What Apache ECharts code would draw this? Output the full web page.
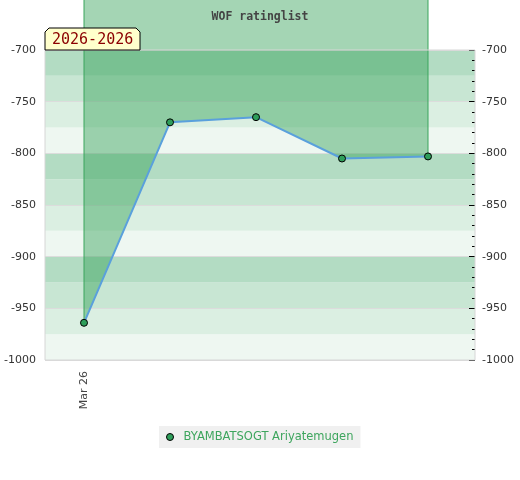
<!DOCTYPE html>
<html>
<head>
<meta charset="utf-8">
<script src="https://cdn.jsdelivr.net/npm/echarts@6/dist/echarts.min.js"></script>
<style>html,body{margin:0;padding:0;background:#fff;}#c{width:520px;height:480px;}</style>
</head>
<body>
<div id="c"></div>
<script>
// ---- data ----
var playerName = 'BYAMBATSOGT Ariyatemugen';
var ratings = [-964, -770, -765, -805, -803];
var xTickLabels = ['Mar 26'];
var yTicksMajor = [-1000, -950, -900, -850, -800, -750, -700];
var chartTitle = 'WOF ratinglist';
var periodLabel = '2026-2026';

var points = ratings.map(function (v, i) { return [i, v]; });

var chart = echarts.init(document.getElementById('c'), null, {renderer: 'canvas'});
var option = {
  animation: false,
  title: {
    text: chartTitle, left: 'center', top: 6,
    textStyle: {fontFamily: 'DejaVu Sans Mono', fontWeight: 'bold', fontSize: 11.5, color: '#444'}
  },
  grid: {
    left: 45, right: 45, top: 50, bottom: 120,
    show: true, z: 10, backgroundColor: 'transparent', borderColor: '#d6d6d6', borderWidth: 1
  },
  legend: {
    left: 159, top: 426,
    backgroundColor: '#f0f0f0',
    padding: [5, 7, 5, 7],
    icon: 'circle', itemWidth: 17, itemHeight: 7,
    itemStyle: {borderColor: '#000', borderWidth: 1},
    textStyle: {color: '#3da55d', fontSize: 11.5, fontFamily: 'DejaVu Sans'},
    data: [playerName]
  },
  xAxis: {
    type: 'value', min: -39 / 86, max: 4 + 47 / 86,
    axisLine: {show: false}, axisTick: {show: false}, splitLine: {show: false},
    axisLabel: {
      customValues: xTickLabels.map(function (d, i) { return i; }),
      rotate: 90, margin: 11, fontSize: 11, color: '#444', fontFamily: 'DejaVu Sans',
      formatter: function (v) { return xTickLabels[Math.round(v)] || ''; }
    }
  },
  yAxis: [{
    type: 'value', min: -1000, max: -700, interval: 25, position: 'left',
    axisLine: {show: false}, axisTick: {show: false}, splitLine: {show: false},
    splitArea: {show: true, areaStyle: {color: ['#eef7f1', '#dbefe2', '#c8e6d3', '#b3dcc3']}},
    axisLabel: {
      margin: 9, fontSize: 11, color: '#333', fontFamily: 'DejaVu Sans',
      formatter: function (v) { return yTicksMajor.indexOf(v) >= 0 ? String(v) : ''; }
    }
  }, {
    type: 'value', min: -1000, max: -700, interval: 50, position: 'right', z: 1,
    axisLine: {show: false},
    axisTick: {show: true, inside: true, length: 6, lineStyle: {color: '#000'}},
    minorTick: {show: true, splitNumber: 5, length: 3, lineStyle: {color: '#000'}},
    splitLine: {show: true, lineStyle: {color: '#dcdcdc', width: 1}},
    axisLabel: {
      margin: 7, fontSize: 11, color: '#333', fontFamily: 'DejaVu Sans',
      formatter: function (v) { return String(v); }
    }
  }],
  graphic: [{
    type: 'polygon', x: 45, y: 28, z: 100,
    shape: {points: [[0, 4], [4, 0], [91, 0], [95, 4], [95, 22], [0, 22]]},
    style: {fill: '#ffffcc', stroke: '#000', lineWidth: 1}
  }, {
    type: 'text', x: 52, y: 40, z: 101,
    style: {text: periodLabel, fill: '#8b0000', font: '15px "DejaVu Sans Mono"', verticalAlign: 'middle'}
  }],
  series: [{
    type: 'custom', name: 'fill', silent: true, clip: false, z: 2,
    data: [[0, ratings[0]]],
    renderItem: function (params, api) {
      var pts = points.map(function (p) { return api.coord(p); });
      var top = 0;
      var poly = [[pts[0][0], top]].concat(pts).concat([[pts[pts.length - 1][0], top]]);
      return {
        type: 'group',
        children: [{
          type: 'polygon', shape: {points: poly},
          style: {fill: 'rgba(45,157,82,0.43)', stroke: null}
        }, {
          type: 'line', shape: {x1: pts[0][0], y1: top, x2: pts[0][0], y2: pts[0][1]},
          style: {stroke: '#3aa55c', lineWidth: 1}
        }, {
          type: 'line', shape: {x1: pts[pts.length - 1][0], y1: top, x2: pts[pts.length - 1][0], y2: pts[pts.length - 1][1]},
          style: {stroke: '#3aa55c', lineWidth: 1}
        }]
      };
    }
  }, {
    type: 'line', name: playerName, data: points, z: 5,
    symbol: 'circle', symbolSize: 7, showSymbol: true,
    lineStyle: {color: '#5aa0dc', width: 2},
    itemStyle: {color: '#2e9e5a', borderColor: '#000', borderWidth: 1}
  }]
};
chart.setOption(option);
</script>
</body>
</html>
